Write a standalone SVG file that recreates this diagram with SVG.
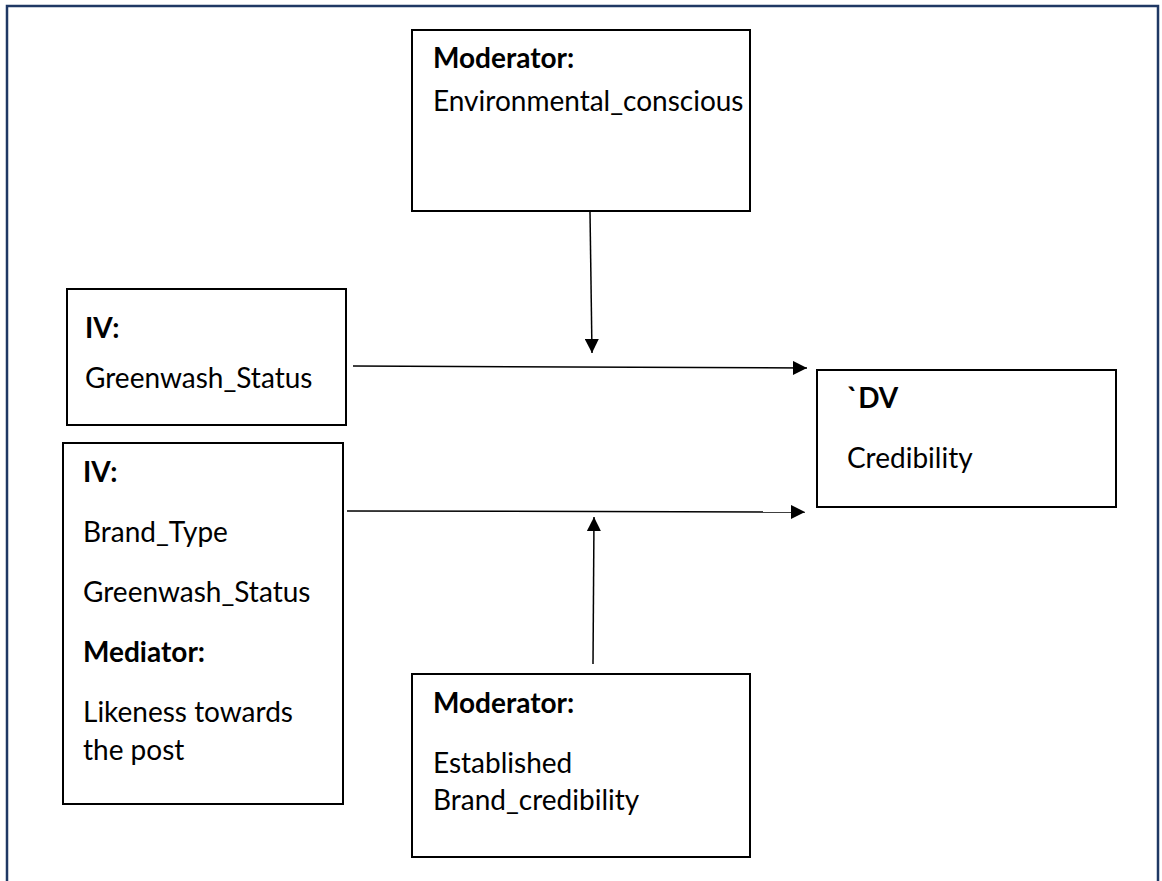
<svg xmlns="http://www.w3.org/2000/svg" width="1162" height="881" viewBox="0 0 1162 881">
<style>
.box{fill:#fff;stroke:#000;stroke-width:2}
.t{font-family:Lato,'Liberation Sans',sans-serif;font-size:28px;fill:#000}
.b{font-weight:bold}
.c{stroke:#000;stroke-width:1.5;fill:none}
</style>
<defs>
<marker id="ah" viewBox="0 0 10 10" refX="10" refY="5" markerWidth="15" markerHeight="14" markerUnits="userSpaceOnUse" orient="auto"><path d="M0,0 L10,5 L0,10 z" fill="#000"/></marker>
</defs>
<rect width="1162" height="881" fill="#fff"/>
<rect x="7" y="6" width="1151" height="900" fill="none" stroke="#1f3864" stroke-width="2.5"/>
<g id="mod-env">
<rect class="box" x="412" y="30" width="338" height="181"/>
<text class="t b" x="433" y="68">Moderator:</text>
<text class="t" x="433" y="111">Environmental_conscious</text>
</g>
<g id="iv1">
<rect class="box" x="67" y="289" width="279" height="136"/>
<text class="t b" x="85" y="338">IV:</text>
<text class="t" x="85" y="388">Greenwash_Status</text>
</g>
<g id="iv2">
<rect class="box" x="63" y="443" width="280" height="361"/>
<text class="t b" x="83" y="482">IV:</text>
<text class="t" x="83" y="542">Brand_Type</text>
<text class="t" x="83" y="602">Greenwash_Status</text>
<text class="t b" x="83" y="662">Mediator:</text>
<text class="t" x="83" y="722">Likeness towards</text>
<text class="t" x="83" y="760">the post</text>
</g>
<g id="dv">
<rect class="box" x="817" y="370" width="299" height="137"/>
<text class="t b" x="847" y="408">`DV</text>
<text class="t" x="847" y="468">Credibility</text>
</g>
<g id="mod-brand">
<rect class="box" x="412" y="674" width="338" height="183"/>
<text class="t b" x="433" y="713">Moderator:</text>
<text class="t" x="433" y="773">Established</text>
<text class="t" x="433" y="810">Brand_credibility</text>
</g>
<g id="connectors">
<line class="c" x1="590" y1="212" x2="592" y2="353" marker-end="url(#ah)"/>
<line class="c" x1="353" y1="366" x2="807" y2="368" marker-end="url(#ah)"/>
<line class="c" x1="347" y1="511" x2="805" y2="512" marker-end="url(#ah)"/>
<line class="c" x1="593" y1="664" x2="594" y2="517" marker-end="url(#ah)"/>
</g>
</svg>
